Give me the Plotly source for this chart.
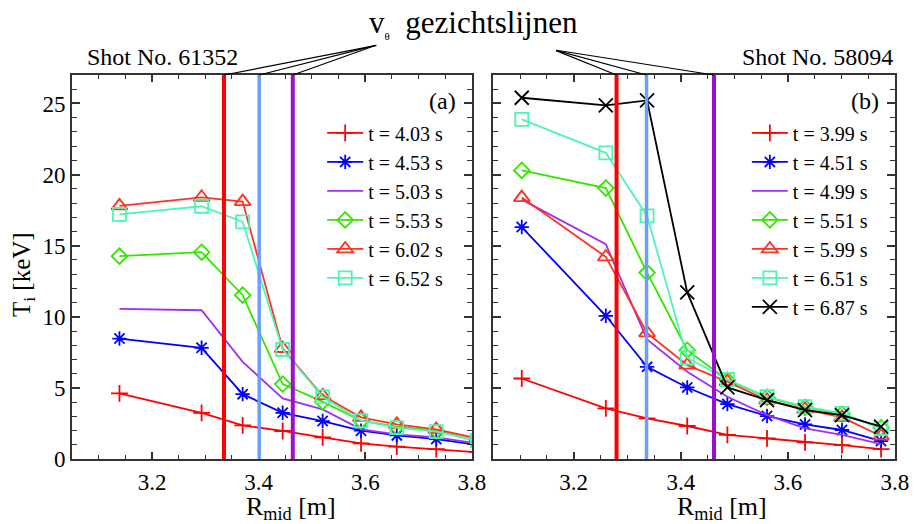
import plotly.graph_objects as go

# ---------------- data ----------------
# Panel (a): shot 61352
R_a = [3.139, 3.293, 3.370, 3.445, 3.520, 3.592, 3.659, 3.733, 3.81]
labels_a = ["t = 4.03 s", "t = 4.53 s", "t = 5.03 s", "t = 5.53 s", "t = 6.02 s", "t = 6.52 s"]
Ti_a_403 = [4.61, 3.25, 2.36, 1.97, 1.52, 1.10, 0.87, 0.70, 0.48]
Ti_a_453 = [8.47, 7.82, 4.56, 3.25, 2.67, 1.99, 1.66, 1.40, 1.00]
Ti_a_503 = [10.56, 10.46, 6.83, 4.26, 3.49, 2.08, 1.73, 1.52, 1.10]
Ti_a_553 = [14.26, 14.54, 11.52, 5.27, 4.03, 2.69, 2.27, 1.99, 1.25]
Ti_a_602 = [17.80, 18.40, 18.10, 7.77, 4.45, 2.93, 2.44, 2.08, 1.45]
Ti_a_652 = [17.20, 17.77, 16.67, 7.70, 4.38, 2.69, 2.20, 1.92, 1.30]

# Panel (b): shot 58094
R_b = [3.103, 3.260, 3.337, 3.412, 3.487, 3.561, 3.632, 3.701, 3.774]
labels_b = ["t = 3.99 s", "t = 4.51 s", "t = 4.99 s", "t = 5.51 s", "t = 5.99 s", "t = 6.51 s", "t = 6.87 s"]
Ti_b_399 = [5.66, 3.56, 2.86, 2.32, 1.69, 1.45, 1.17, 0.98, 0.70]
Ti_b_451 = [16.31, 10.07, 6.48, 5.03, 3.86, 3.02, 2.43, 2.04, 1.26]
Ti_b_499 = [18.24, 15.10, 8.41, 6.13, 4.38, 3.09, 2.15, 1.69, 1.05]
Ti_b_551 = [20.29, 19.05, 13.11, 7.65, 5.55, 4.33, 3.63, 3.16, 2.20]
Ti_b_599 = [18.38, 14.21, 8.87, 6.60, 5.43, 4.14, 3.49, 2.93, 1.62]
Ti_b_651 = [23.88, 21.53, 17.09, 7.12, 5.59, 4.38, 3.68, 3.21, 2.15]
Ti_b_687 = [25.40, 24.86, 25.21, 11.71, 5.03, 4.14, 3.44, 3.09, 2.27]

# v_theta lines of sight (R positions)
los_a = [3.335, 3.401, 3.464]
los_b = [3.280, 3.336, 3.462]
los_colors = ["#FF0000", "#6C9EFF", "#9A10D0"]
los_widths = [4, 3.5, 4]

FONT = "Liberation Serif"

# styles: (color, symbol, size)
styles = [
    ("#FF0000", "cross-thin-open", 12),
    ("#0000FF", "asterisk-open", 12),
    ("#A030F0", None, 0),
    ("#33E600", "diamond-open", 12),
    ("#FF3322", "triangle-up-open", 14),
    ("#4DF5B5", "square-open", 13),
    ("#000000", "x-thin-open", 14),
]

fig = go.Figure()

def add_series(x, y, name, st, xa, ya, leg, grp):
    color, sym, size = st
    kw = dict(x=x, y=y, name=name, xaxis=xa, yaxis=ya, legend=leg, legendgroup=grp,
              line=dict(color=color, width=1.8))
    if sym:
        kw["mode"] = "lines+markers"
        kw["marker"] = dict(symbol=sym, size=size, color=color, line=dict(color=color, width=1.8))
    else:
        kw["mode"] = "lines"
    fig.add_trace(go.Scatter(**kw))

for i, y in enumerate([Ti_a_403, Ti_a_453, Ti_a_503, Ti_a_553, Ti_a_602, Ti_a_652]):
    add_series(R_a, y, labels_a[i], styles[i], "x", "y", "legend", "a%d" % i)
for i, y in enumerate([Ti_b_399, Ti_b_451, Ti_b_499, Ti_b_551, Ti_b_599, Ti_b_651, Ti_b_687]):
    add_series(R_b, y, labels_b[i], styles[i], "x2", "y2", "legend2", "b%d" % i)

# vertical lines of sight
shapes = []
for xs, xr, yr in [(los_a, "x", "y domain"), (los_b, "x2", "y2 domain")]:
    for xv, c, w in zip(xs, los_colors, los_widths):
        shapes.append(dict(type="line", xref=xr, yref=yr, x0=xv, x1=xv, y0=0, y1=1,
                           line=dict(color=c, width=w), layer="above"))

annotations = []
# connector lines from the title to the lines of sight
for xv, ax in zip(los_a, [154, 118, 84]):
    annotations.append(dict(x=xv, y=1, xref="x", yref="y domain", ax=ax, ay=-30,
                            text="", showarrow=True, arrowhead=0, arrowwidth=1.2,
                            arrowcolor="black", standoff=0, startstandoff=0))
for xv, ax in zip(los_b, [-62, -92, -159]):
    annotations.append(dict(x=xv, y=1, xref="x2", yref="y2 domain", ax=ax, ay=-25,
                            text="", showarrow=True, arrowhead=0, arrowwidth=1.2,
                            arrowcolor="black", standoff=0, startstandoff=0))

def txt(text, x, y, xref, yref, size, xanchor="center", **kw):
    d = dict(text=text, x=x, y=y, xref=xref, yref=yref, xanchor=xanchor, yanchor="middle",
             showarrow=False, font=dict(family=FONT, size=size, color="black"))
    d.update(kw)
    return d

annotations += [
    txt("v<sub><span style='font-size:11px'>θ</span></sub>  gezichtslijnen", 0.488, 1.135, "paper", "paper", 31),
    txt("Shot No. 61352", 0.032, 1.047, "x domain", "paper", 24, xanchor="left"),
    txt("Shot No. 58094", 1.0, 1.047, "x2 domain", "paper", 24, xanchor="right"),
    txt("(a)", 0.965, 0.932, "x domain", "y domain", 24, xanchor="right"),
    txt("(b)", 0.964, 0.932, "x2 domain", "y2 domain", 24, xanchor="right"),
    txt("R<sub>mid</sub> [m]", 0.266, -0.128, "paper", "paper", 26),
    txt("R<sub>mid</sub> [m]", 0.790, -0.128, "paper", "paper", 26),
    txt("T<sub>i</sub> [keV]", -0.0595, 0.479, "paper", "paper", 25, textangle=-90),
]

axis_common = dict(showline=True, linecolor="#333333", linewidth=2, mirror="ticks",
                   ticks="inside", tickcolor="#333333", tickwidth=1.5,
                   showgrid=False, zeroline=False, automargin=False,
                   tickfont=dict(family=FONT, size=23, color="black"))

xa = dict(axis_common, range=[3.05, 3.8], tick0=3.0, dtick=0.2, ticklen=7, tickangle=0,
          minor=dict(dtick=0.05, tick0=3.0, ticklen=4, ticks="inside", tickcolor="#333333", tickwidth=1.2),
          ticklabelstandoff=1)
ya = dict(axis_common, range=[0, 27], tick0=0, dtick=5, ticklen=8,
          minor=dict(dtick=1, tick0=0, ticklen=5, ticks="inside", tickcolor="#333333", tickwidth=1.2),
          ticklabelstandoff=0)

legend_common = dict(xref="paper", yref="paper", xanchor="left", yanchor="top",
                     font=dict(family=FONT, size=20, color="black"), bgcolor="rgba(0,0,0,0)",
                     traceorder="grouped", tracegroupgap=0, itemwidth=36)

fig.update_layout(
    width=916, height=524,
    margin=dict(l=72, r=21, t=75, b=65, autoexpand=False),
    paper_bgcolor="white", plot_bgcolor="white",
    xaxis=dict(xa, domain=[0, 0.486], anchor="y"),
    xaxis2=dict(xa, domain=[0.512, 1], anchor="y2"),
    yaxis=dict(ya, anchor="x"),
    yaxis2=dict(ya, anchor="x2", showticklabels=False),
    legend=dict(legend_common, x=0.304, y=0.90),
    legend2=dict(legend_common, x=0.820, y=0.90),
    shapes=shapes,
    annotations=annotations,
    showlegend=True,
)

# remove the default 8px page margin so the figure fills the window exactly
fig.write_html("out.html", config={"displayModeBar": False},
               post_script="document.body.style.margin='0px';")
